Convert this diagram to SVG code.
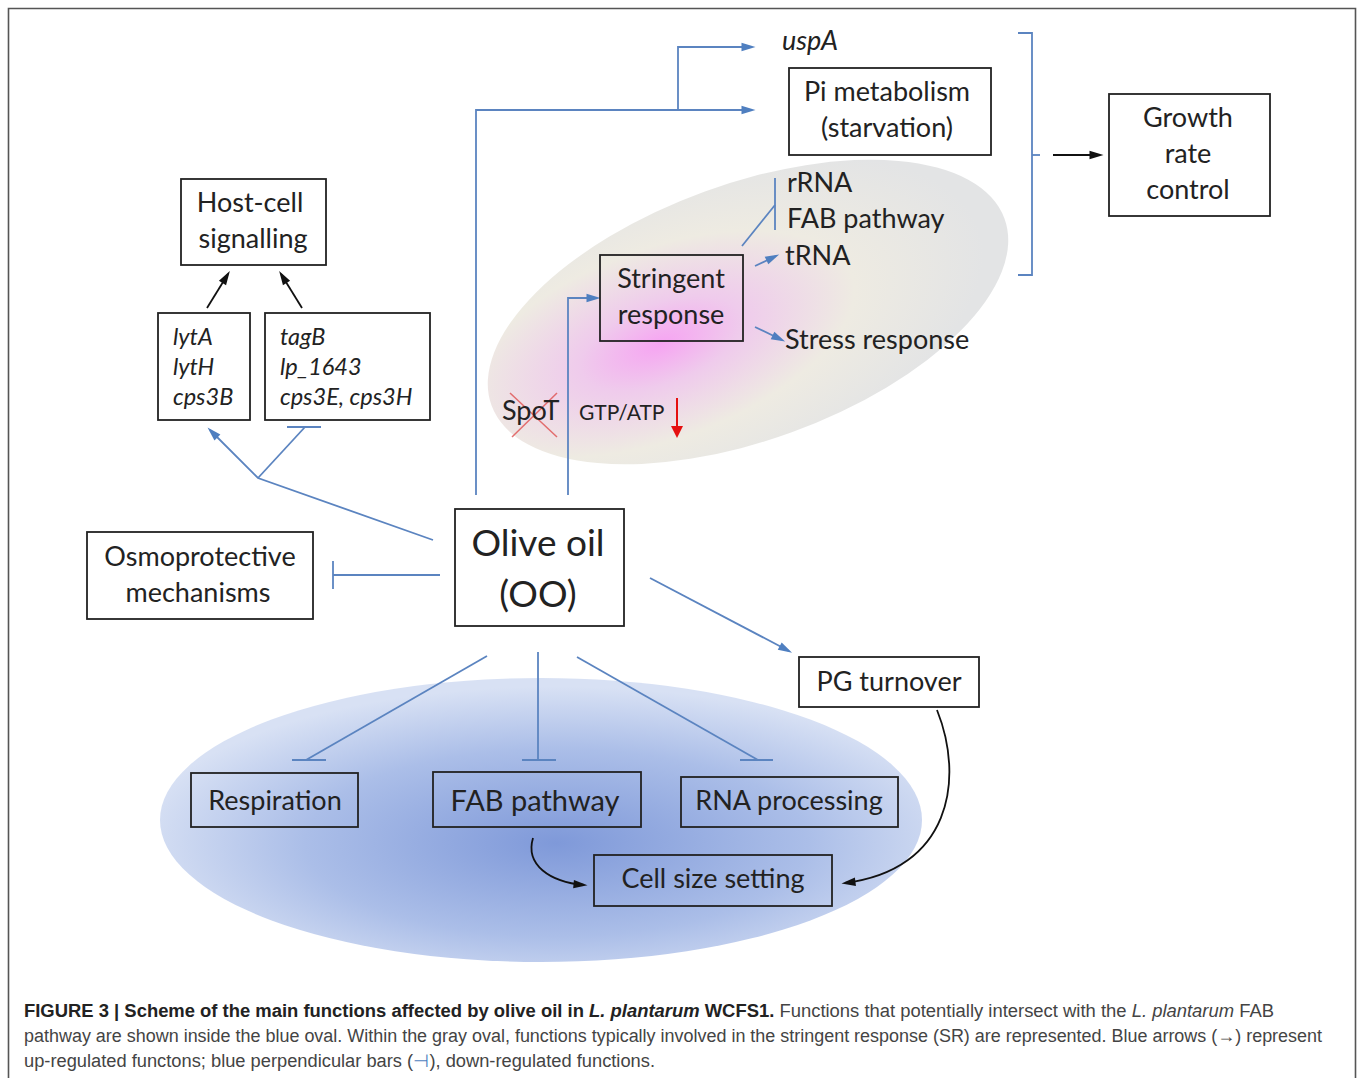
<svg xmlns="http://www.w3.org/2000/svg" width="1358" height="1078" viewBox="0 0 1358 1078">
<style>
.t{font-family:Lato,"Open Sans","Liberation Sans",sans-serif;fill:#222;font-size:27px}
.i{font-style:italic}
.s{font-size:23.5px}
.big{font-size:37px}
.box{fill:none;stroke:#222;stroke-width:1.8}
.bl{fill:none;stroke:#5b84c0;stroke-width:1.8}
.bk{fill:none;stroke:#111;stroke-width:1.8}
.cap{font-family:"Liberation Sans",Arial,sans-serif;font-size:18px;fill:#444}
</style>
<defs>
<marker id="ab" viewBox="0 0 10 10" refX="9" refY="5" markerWidth="7" markerHeight="7" orient="auto" markerUnits="userSpaceOnUse" overflow="visible"><path d="M-6,-1 L14,5 L-6,11 Z" fill="#4f7fc0"/></marker>
<marker id="ak" viewBox="0 0 10 10" refX="9" refY="5" markerWidth="7" markerHeight="7" orient="auto" markerUnits="userSpaceOnUse" overflow="visible"><path d="M-6,-1 L14,5 L-6,11 Z" fill="#111"/></marker>
<radialGradient id="gb" cx="0.52" cy="0.58" r="0.55">
<stop offset="0" stop-color="#7f99d9"/>
<stop offset="0.6" stop-color="#abbee8"/>
<stop offset="1" stop-color="#d8e1f4"/>
</radialGradient>
<radialGradient id="gg" cx="0.33" cy="0.5" r="0.62" fx="0.33" fy="0.5">
<stop offset="0" stop-color="#f6a4f2"/>
<stop offset="0.25" stop-color="#efcbec"/>
<stop offset="0.6" stop-color="#eeebe2"/>
<stop offset="1" stop-color="#e3e4e5"/>
</radialGradient>
</defs>
<rect x="0" y="0" width="1358" height="1078" fill="#fff"/>
<path d="M8.5,1078 V8.5 H1355.5 V1078" fill="none" stroke="#555" stroke-width="1.6"/>

<g id="ovals">
<ellipse cx="541" cy="820" rx="381" ry="142" fill="url(#gb)"/>
<ellipse cx="748" cy="312" rx="273" ry="128" transform="rotate(-20 748 312)" fill="url(#gg)"/>
</g>

<g id="connectors">
<polyline class="bl" points="476,495 476,110 752,110" marker-end="url(#ab)"/>
<polyline class="bl" points="678,110 678,47 752,47" marker-end="url(#ab)"/>
<polyline class="bl" points="568,495 568,298 597,298" marker-end="url(#ab)"/>
<line class="bl" x1="742" y1="246" x2="775" y2="205"/>
<line class="bl" x1="775" y1="178" x2="775" y2="230"/>
<line class="bl" x1="755" y1="266" x2="776" y2="256" marker-end="url(#ab)"/>
<line class="bl" x1="755" y1="327" x2="782" y2="340" marker-end="url(#ab)"/>
<polyline class="bl" points="1018,33 1032,33 1032,275 1018,275"/>
<line class="bl" x1="1032" y1="155" x2="1046" y2="155" stroke-dasharray="8,6"/>
<line class="bk" x1="1053" y1="155" x2="1100" y2="155" marker-end="url(#ak)"/>
<line class="bk" x1="207" y1="308" x2="228" y2="274" marker-end="url(#ak)"/>
<line class="bk" x1="302" y1="308" x2="281" y2="274" marker-end="url(#ak)"/>
<polyline class="bl" points="433,540 258,478 210,430" marker-end="url(#ab)"/>
<line class="bl" x1="258" y1="478" x2="305" y2="427"/>
<line class="bl" x1="287" y1="427" x2="321" y2="427"/>
<line class="bl" x1="440" y1="575" x2="333" y2="575"/>
<line class="bl" x1="333" y1="561" x2="333" y2="589"/>
<line class="bl" x1="650" y1="578" x2="789" y2="651" marker-end="url(#ab)"/>
<line class="bl" x1="487" y1="656" x2="306" y2="760"/>
<line class="bl" x1="292" y1="760" x2="326" y2="760"/>
<line class="bl" x1="538" y1="652" x2="538" y2="760"/>
<line class="bl" x1="522" y1="760" x2="556" y2="760"/>
<line class="bl" x1="577" y1="657" x2="758" y2="760"/>
<line class="bl" x1="740" y1="760" x2="773" y2="760"/>
<path class="bk" d="M937,710 C965,780 950,870 845,883" marker-end="url(#ak)"/>
<path class="bk" d="M533,838 C525,865 550,882 584,885" marker-end="url(#ak)"/>
<line x1="510" y1="393" x2="557" y2="437" stroke="#e05050" stroke-width="1.5" opacity="0.8"/>
<line x1="557" y1="393" x2="512" y2="437" stroke="#e05050" stroke-width="1.5" opacity="0.8"/>
<line x1="677" y1="398" x2="677" y2="428" stroke="#e51010" stroke-width="2"/>
<path d="M671,426 L683,426 L677,438 Z" fill="#e51010"/>
</g>

<g id="uspA"><text class="t i" x="782" y="50">uspA</text></g>
<g id="pi">
<rect class="box" x="789" y="68" width="202" height="87"/>
<text class="t" x="887" y="101" text-anchor="middle">Pi metabolism</text>
<text class="t" x="887" y="137" text-anchor="middle">(starvation)</text>
</g>
<g id="growth">
<rect class="box" x="1109" y="94" width="161" height="122"/>
<text class="t" x="1188" y="127" text-anchor="middle">Growth</text>
<text class="t" x="1188" y="163" text-anchor="middle">rate</text>
<text class="t" x="1188" y="199" text-anchor="middle">control</text>
</g>
<g id="host">
<rect class="box" x="181" y="179" width="145" height="86"/>
<text class="t" x="250" y="212" text-anchor="middle">Host-cell</text>
<text class="t" x="253" y="248" text-anchor="middle">signalling</text>
</g>
<g id="lyt">
<rect class="box" x="158" y="313" width="92" height="107"/>
<text class="t i s" x="173" y="345">lytA</text>
<text class="t i s" x="173" y="375">lytH</text>
<text class="t i s" x="173" y="405">cps3B</text>
</g>
<g id="tag">
<rect class="box" x="265" y="313" width="165" height="107"/>
<text class="t i s" x="280" y="345">tagB</text>
<text class="t i s" x="280" y="375">lp_1643</text>
<text class="t i s" x="280" y="405">cps3E, cps3H</text>
</g>
<g id="stringent">
<rect class="box" x="600" y="255" width="143" height="86"/>
<text class="t" x="671" y="288" text-anchor="middle">Stringent</text>
<text class="t" x="671" y="324" text-anchor="middle">response</text>
</g>
<g id="sr-targets">
<text class="t" x="787" y="192">rRNA</text>
<text class="t" x="787" y="228">FAB pathway</text>
<text class="t" x="785" y="265">tRNA</text>
<text class="t" x="785" y="349">Stress response</text>
</g>
<g id="spot">
<text class="t" x="502" y="420" style="font-size:27px">SpoT</text>
<text class="t" x="579" y="420" style="font-size:21px">GTP/ATP</text>
</g>
<g id="olive">
<rect class="box" x="455" y="509" width="169" height="117"/>
<text class="t big" x="538" y="556" text-anchor="middle">Olive oil</text>
<text class="t big" x="538" y="607" text-anchor="middle">(OO)</text>
</g>
<g id="osmo">
<rect class="box" x="87" y="532" width="226" height="87"/>
<text class="t" x="200" y="566" text-anchor="middle">Osmoprotective</text>
<text class="t" x="198" y="602" text-anchor="middle">mechanisms</text>
</g>
<g id="pg">
<rect class="box" x="799" y="657" width="180" height="50"/>
<text class="t" x="889" y="691" text-anchor="middle">PG turnover</text>
</g>
<g id="resp">
<rect class="box" x="191" y="773" width="167" height="54"/>
<text class="t" x="275" y="810" text-anchor="middle">Respiration</text>
</g>
<g id="fab">
<rect class="box" x="433" y="772" width="208" height="55"/>
<text class="t" x="535" y="811" text-anchor="middle" style="font-size:29px">FAB pathway</text>
</g>
<g id="rna">
<rect class="box" x="681" y="777" width="217" height="50"/>
<text class="t" x="789" y="810" text-anchor="middle">RNA processing</text>
</g>
<g id="cell">
<rect class="box" x="594" y="855" width="238" height="51"/>
<text class="t" x="713" y="888" text-anchor="middle">Cell size setting</text>
</g>

<g id="caption">
<text class="cap" x="24" y="1017" textLength="1250" lengthAdjust="spacingAndGlyphs"><tspan font-weight="bold" fill="#222">FIGURE 3 | Scheme of the main functions affected by olive oil in <tspan font-style="italic">L. plantarum</tspan> WCFS1.</tspan> Functions that potentially intersect with the <tspan font-style="italic">L. plantarum</tspan> FAB</text>
<text class="cap" x="24" y="1042" textLength="1298" lengthAdjust="spacingAndGlyphs">pathway are shown inside the blue oval. Within the gray oval, functions typically involved in the stringent response (SR) are represented. Blue arrows (→) represent</text>
<text class="cap" x="24" y="1067" textLength="631" lengthAdjust="spacingAndGlyphs">up-regulated functons; blue perpendicular bars (<tspan fill="#4f7fc0">⊣</tspan>), down-regulated functions.</text>
</g>
</svg>
